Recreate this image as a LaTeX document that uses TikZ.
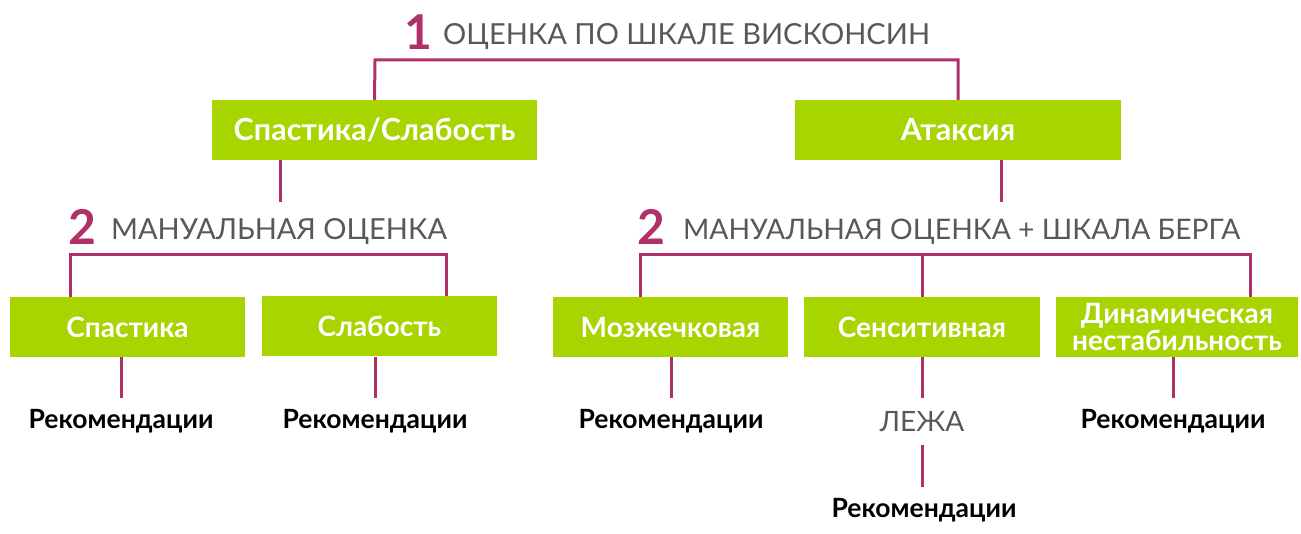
\documentclass[tikz,border=0pt]{standalone}
\usepackage{fontspec}
\setmainfont{Lato}
\definecolor{lime}{RGB}{168,212,0}
\definecolor{plum}{RGB}{176,48,106}
\definecolor{txtgray}{RGB}{88,88,88}
\tikzset{
  box/.style={fill=lime, text=white, font=\fontsize{28}{22}\selectfont\bfseries, align=center, inner sep=0pt},
  bigbox/.style={box, font=\fontsize{30.5}{31}\selectfont\bfseries},
  num/.style={text=plum, font=\fontsize{48}{48}\selectfont\bfseries, inner sep=0pt},
  head/.style={text=txtgray, font=\fontsize{29}{30}\selectfont, inner sep=0pt},
  rec/.style={text=black, font=\fontsize{26.5}{27}\selectfont\bfseries, inner sep=0pt, minimum height=46pt},
  link/.style={draw=plum, line width=3pt},
}
\begin{document}
\begin{tikzpicture}[x=1pt,y=-1pt]
\useasboundingbox (0,0) rectangle (1301,534);
% level 1
\node[num, anchor=base] (n1) at (418,50) {1};
\node[head, anchor=base west] (h1) at (443,45) {ОЦЕНКА ПО ШКАЛЕ ВИСКОНСИН};
\node[bigbox, minimum width=325pt, minimum height=60pt] (sw) at (374.5,130) {Спастика/Слабость};
\node[bigbox, minimum width=326pt, minimum height=60pt] (at) at (958,130) {Атаксия};
\coordinate (t1) at (375,60);
\coordinate (t2) at (958,60);
\draw[link] (sw.north) -- (t1) -- (t2) -- (at.north);
% level 2 left
\node[num, anchor=base] (n2l) at (82,245) {2};
\node[head, anchor=base west] (h2l) at (111,240) {МАНУАЛЬНАЯ ОЦЕНКА};
\coordinate (e1) at (280,202);
\draw[link] (sw.south -| e1) -- (e1);
\node[box, minimum width=235pt, minimum height=60pt] (sp) at (127.5,327) {Спастика};
\node[box, minimum width=235pt, minimum height=60pt] (sl) at (379.5,326.5) {Слабость};
\coordinate (l1) at (70,255);
\coordinate (l2) at (446,255);
\draw[link] (l1 |- sp.north) -- (l1) -- (l2) -- (l2 |- sl.north);
\node[rec, anchor=north] (r1) at (121,398) {Рекомендации};
\node[rec, anchor=north] (r2) at (375,398) {Рекомендации};
\draw[link] (r1.north |- sp.south) -- (r1.north);
\draw[link] (r2.north |- sl.south) -- (r2.north);
% level 2 right
\node[num, anchor=base] (n2r) at (651,245) {2};
\node[head, anchor=base west, font=\fontsize{28.3}{30}\selectfont] (h2r) at (683,240) {МАНУАЛЬНАЯ ОЦЕНКА + ШКАЛА БЕРГА};
\coordinate (e2) at (1001,202);
\draw[link] (at.south -| e2) -- (e2);
\node[box, minimum width=235pt, minimum height=60pt] (mz) at (670.5,327) {Мозжечковая};
\node[box, minimum width=236pt, minimum height=60pt] (se) at (922,327) {Сенситивная};
\node[box, minimum width=242pt, minimum height=60pt] (dn) at (1177,327) {Динамическая\\нестабильность};
\coordinate (m1) at (640,255);
\coordinate (m2) at (1250,255);
\draw[link] (m1 |- mz.north) -- (m1) -- (m2) -- (m2 |- dn.north);
\draw[link] (se.north) -- (se.north |- m1);
\node[rec, anchor=north] (r3) at (671,398) {Рекомендации};
\node[head, anchor=north, minimum height=47pt, font=\fontsize{28}{29}\selectfont] (lz) at (922,398) {ЛЕЖА};
\node[rec, anchor=north] (r4) at (1173,398) {Рекомендации};
\node[rec, anchor=north] (r5) at (924,487) {Рекомендации};
\draw[link] (r3.north |- mz.south) -- (r3.north);
\draw[link] (r4.north |- dn.south) -- (r4.north);
\draw[link] (lz.north |- se.south) -- (lz.north);
\draw[link] (lz.south) -- (lz.south |- r5.north);
\end{tikzpicture}
\end{document}
